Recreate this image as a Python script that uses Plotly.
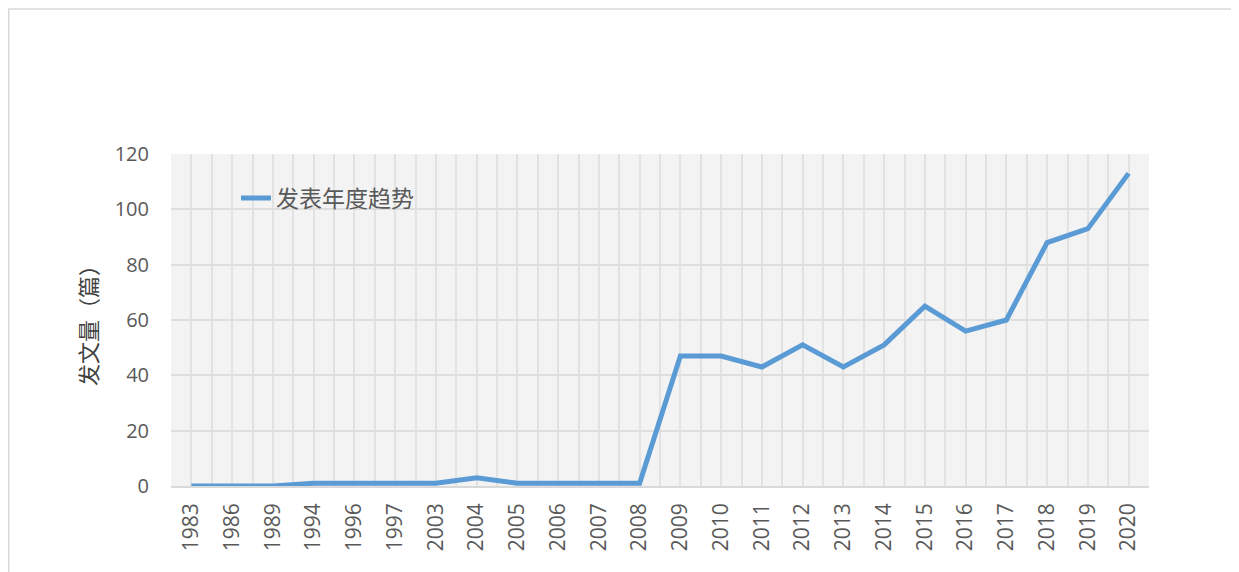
import plotly.graph_objects as go

years = ["1983", "1986", "1989", "1994", "1996", "1997", "2003", "2004", "2005", "2006",
         "2007", "2008", "2009", "2010", "2011", "2012", "2013", "2014", "2015", "2016",
         "2017", "2018", "2019", "2020"]
counts = [0, 0, 0, 1, 1, 1, 1, 3, 1, 1,
          1, 1, 47, 47, 43, 51, 43, 51, 65, 56,
          60, 88, 93, 113]
series_name = "发表年度趋势"
y_title = "发文量（篇）"
y_ticks = [0, 20, 40, 60, 80, 100, 120]

idx = list(range(len(years)))

# page is offset by the 8px body margin
OFF = 8
W, H = 1239 - OFF, 572 - OFF
L = 171 - OFF
T = 154 - OFF
R = W - (1149 - OFF)
B = H - (486 - OFF)
pw, ph = W - L - R, H - T - B

def px_x(p):
    return (p - OFF - L) / pw

def px_y(p):
    return (H - B - (p - OFF)) / ph

fig = go.Figure()
fig.add_trace(go.Scatter(
    x=idx, y=counts, mode="lines", name=series_name,
    line=dict(color="#5B9BD5", width=5),
))

font_fam = "Open Sans, Noto Sans CJK SC, sans-serif"

fig.update_layout(
    width=W, height=H,
    margin=dict(l=L, r=R, t=T, b=B, autoexpand=False),
    paper_bgcolor="white",
    plot_bgcolor="#f3f3f3",
    font=dict(family=font_fam, color="#595959", size=20),
    showlegend=True,
    legend=dict(
        x=px_x(236), y=px_y(198), xanchor="left", yanchor="middle",
        bgcolor="rgba(0,0,0,0)",
        font=dict(family="Noto Sans CJK SC, sans-serif", size=23, color="#595959"),
    ),
    xaxis=dict(
        range=[-0.5, len(years) - 0.5],
        tickmode="array", tickvals=idx, ticktext=years,
        tickangle=-90,
        showgrid=True, gridcolor="#e2e2e2", gridwidth=1.5,
        minor=dict(dtick=1, tick0=0.5, showgrid=True, gridcolor="#e2e2e2", gridwidth=1.5),
        zeroline=False,
        showline=True, linecolor="#d9d9d9", linewidth=1.5,
        ticks="", ticklabelstandoff=7,
        tickfont=dict(size=21, color="#595959"),
        fixedrange=True,
    ),
    yaxis=dict(
        range=[0, 120],
        tickmode="array", tickvals=y_ticks,
        showgrid=True, gridcolor="#dedede", gridwidth=1.5,
        zeroline=False, showline=False,
        ticks="", ticklabelstandoff=21,
        tickfont=dict(size=20, color="#595959"),
        title=dict(text=y_title, standoff=10,
                   font=dict(family="Noto Sans CJK SC, sans-serif", size=22, color="#404040")),
    ),
    shapes=[
        dict(type="line", xref="paper", yref="paper",
             x0=-L / pw, x1=px_x(1245), y0=px_y(9), y1=px_y(9),
             line=dict(color="#d9d9d9", width=1.5)),
        dict(type="line", xref="paper", yref="paper",
             x0=(0.75 - L) / pw, x1=(0.75 - L) / pw, y0=px_y(9), y1=px_y(580),
             line=dict(color="#d9d9d9", width=1.5)),
    ],
)

fig.write_html("out.html")
